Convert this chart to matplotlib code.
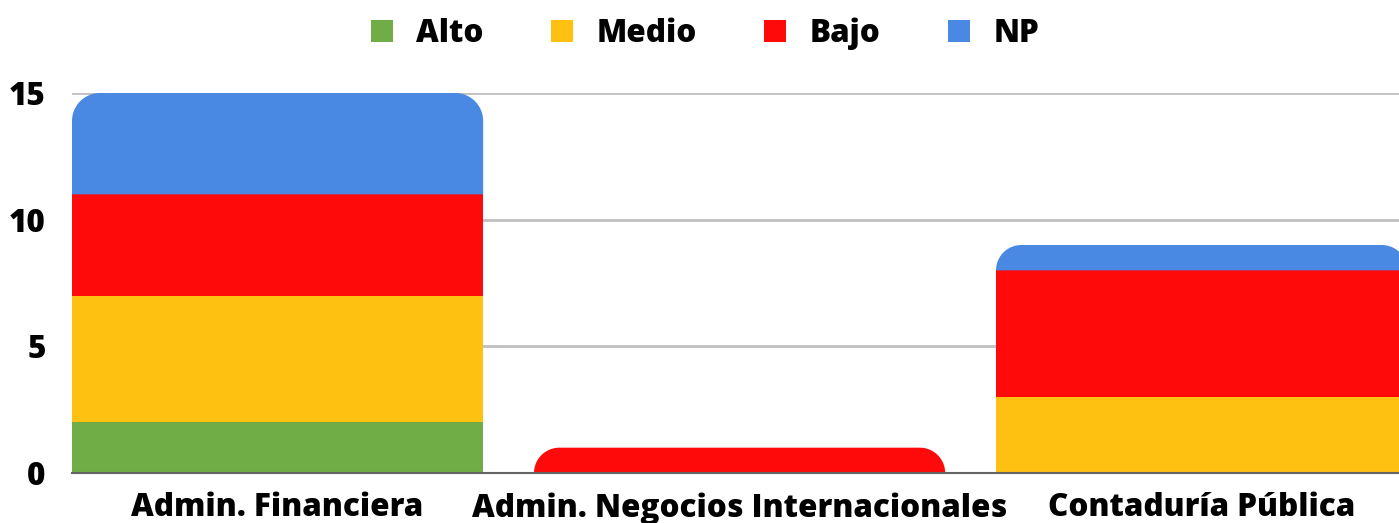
import numpy as np
import matplotlib
matplotlib.use("Agg")
import matplotlib.pyplot as plt
from matplotlib.path import Path
from matplotlib.patches import PathPatch, Patch

plt.rcParams['font.family'] = ['Open Sans', 'DejaVu Sans']
plt.rcParams['font.weight'] = 'heavy'

# data
categories = ["Admin. Financiera", "Admin. Negocios Internacionales", "Contaduría Pública"]
series_names = ["Alto", "Medio", "Bajo", "NP"]
alto = [2, 0, 0]
medio = [5, 0, 3]
bajo = [4, 1, 5]
np_vals = [4, 0, 1]
colors = ["#70AD47", "#FEC112", "#FF0A0A", "#4A89E3"]

series = [alto, medio, bajo, np_vals]

fig = plt.figure(figsize=(13.99, 5.23), dpi=100)
ax = fig.add_axes([72 / 1399, 50 / 523, 1327 / 1399, 380 / 523])

x = np.arange(len(categories))
width = 0.89
ax.set_xlim(-width / 2, -width / 2 + 1327 / 462)
ax.set_ylim(0, 15)

bottoms = np.zeros(len(categories))
bars = []
for vals, c in zip(series, colors):
    b = ax.bar(x, vals, width, bottom=bottoms, color=c, linewidth=0, zorder=3)
    bars.append(b)
    bottoms += np.array(vals)

# rounded top corners on the top segment of each stack
r_px = 28
xl = ax.get_xlim()
yl = ax.get_ylim()
rx_unit = r_px * (xl[1] - xl[0]) / 1327
ry_unit = r_px * (yl[1] - yl[0]) / 380


def rounded_top(x0, y0, w, h, color):
    ry = min(ry_unit, h)
    rx = rx_unit * (ry / ry_unit)
    t = np.linspace(0, np.pi / 2, 20)
    pts = [(x0, y0), (x0, y0 + h - ry)]
    # left corner
    pts += list(zip(x0 + rx - rx * np.cos(t), y0 + h - ry + ry * np.sin(t)))
    # right corner
    pts += list(zip(x0 + w - rx + rx * np.sin(t), y0 + h - ry + ry * np.cos(t)))
    pts += [(x0 + w, y0), (x0, y0)]
    path = Path(pts)
    ax.add_patch(PathPatch(path, facecolor=color, edgecolor='none', zorder=3))


for i in range(len(categories)):
    top = None
    for s in range(len(series)):
        if series[s][i] > 0:
            top = s
    if top is None:
        continue
    p = bars[top].patches[i]
    p.set_visible(False)
    rounded_top(p.get_x(), p.get_y(), p.get_width(), p.get_height(), colors[top])

ax.set_yticks([0, 5, 10, 15])
ax.set_xticks(x)
ax.set_xticklabels(categories)
ax.yaxis.grid(True, color="#C0C0C0", linewidth=2, zorder=0)
ax.set_axisbelow(True)
for s in ["top", "right", "left"]:
    ax.spines[s].set_visible(False)
ax.spines["bottom"].set_color("#666666")
ax.spines["bottom"].set_linewidth(1.5)
ax.spines["bottom"].set_zorder(4)
ax.tick_params(axis='both', length=0, labelsize=22.6)
ax.tick_params(axis='y', pad=19)
ax.tick_params(axis='x', pad=14)

handles = [Patch(facecolor=c, edgecolor='none') for c in colors]
fig.legend(handles, series_names, loc="center", bbox_to_anchor=(705 / 1399, 1 - 34 / 523),
           ncol=4, frameon=False, fontsize=22.6, handlelength=0.7, handleheight=0.7,
           handletextpad=0.75, columnspacing=2.15)

fig.savefig("out.png", dpi=100)
